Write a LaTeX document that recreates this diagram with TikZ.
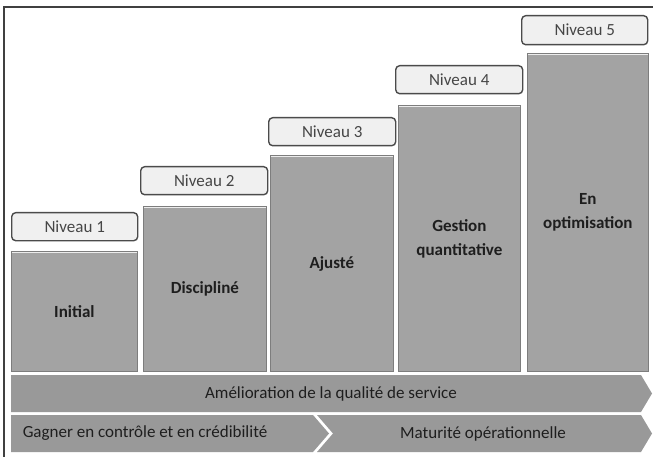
\documentclass[tikz,border=0pt]{standalone}
\usepackage{fontspec}
\setmainfont{Carlito}
\definecolor{colfill}{RGB}{163,163,163}
\definecolor{coledge}{RGB}{125,125,125}
\definecolor{barfill}{RGB}{153,153,153}
\definecolor{lblfill}{RGB}{240,240,240}
\definecolor{lbledge}{RGB}{75,75,75}
\definecolor{lbltext}{RGB}{70,70,70}
\definecolor{txtdark}{RGB}{30,30,30}
\begin{document}
\begin{tikzpicture}[x=1pt,y=-1pt,
  colbox/.style={draw=coledge, fill=colfill, line width=0.8pt, anchor=south west, inner sep=0pt},
  coltext/.style={font=\fontsize{17}{24}\selectfont\bfseries, text=txtdark, align=center},
  lblbox/.style={draw=lbledge, fill=lblfill, line width=1.4pt, rounded corners=4pt, anchor=north west, inner sep=0pt, font=\fontsize{17}{20}\selectfont, text=lbltext},
  bartext/.style={font=\fontsize{17}{20}\selectfont, text=txtdark},
  barshape/.style={fill=barfill}]
\useasboundingbox (0,0) rectangle (653,457);
\fill[white] (0,0) rectangle (653,457);
\draw[line width=1.3pt, color=black!75] (4,458) -- (4,7) -- (654,7);
% columns
\node[colbox, minimum width=126pt, minimum height=120pt] (c1) at (11,372) {};
\node[colbox, minimum width=123pt, minimum height=165pt] (c2) at (143,372) {};
\node[colbox, minimum width=123pt, minimum height=216pt] (c3) at (270,372) {};
\node[colbox, minimum width=122pt, minimum height=266pt] (c4) at (398,372) {};
\node[colbox, minimum width=121pt, minimum height=318pt] (c5) at (527,372) {};
\foreach \c in {c1,c2,c3,c4,c5}{
  \draw[white!85!gray, line width=1.2pt] ([xshift=1pt,yshift=-1pt]\c.north west) -- ([xshift=-1pt,yshift=-1pt]\c.north east);
}
\node[coltext] (t1) at (c1.center) {Initial};
\node[coltext] (t2) at (c2.center) {Discipliné};
\node[coltext] (t3) at (c3.center) {Ajusté};
\node[coltext] (t4) at (c4.center) {Gestion\\quantitative};
\node[coltext] (t5) at (c5.center) {En\\optimisation};
% labels
\node[lblbox, minimum width=126pt, minimum height=28pt] (n1) at (11,212) {Niveau 1};
\node[lblbox, minimum width=127pt, minimum height=28pt] (n2) at (140,166) {Niveau 2};
\node[lblbox, minimum width=127pt, minimum height=28pt] (n3) at (268,117) {Niveau 3};
\node[lblbox, minimum width=127pt, minimum height=28pt] (n4) at (395,65) {Niveau 4};
\node[lblbox, minimum width=126pt, minimum height=29pt] (n5) at (521,15) {Niveau 5};
% bars
\fill[barshape] (11,375) -- (641,375) -- (652,393.5) -- (641,412) -- (11,412) -- cycle;
\fill[barshape] (11,415) -- (313,415) -- (329,433.5) -- (313,452) -- (11,452) -- cycle;
\fill[barshape] (317,415) -- (641,415) -- (652,433.5) -- (641,452) -- (317,452) -- (333,433.5) -- cycle;
\node[bartext] (b1) at (331,393.5) {Amélioration de la qualité de service};
\node[bartext] (b2) at (145,433.5) {Gagner en contrôle et en crédibilité};
\node[bartext] (b3) at (483,433.5) {Maturité opérationnelle};
\end{tikzpicture}
\end{document}
